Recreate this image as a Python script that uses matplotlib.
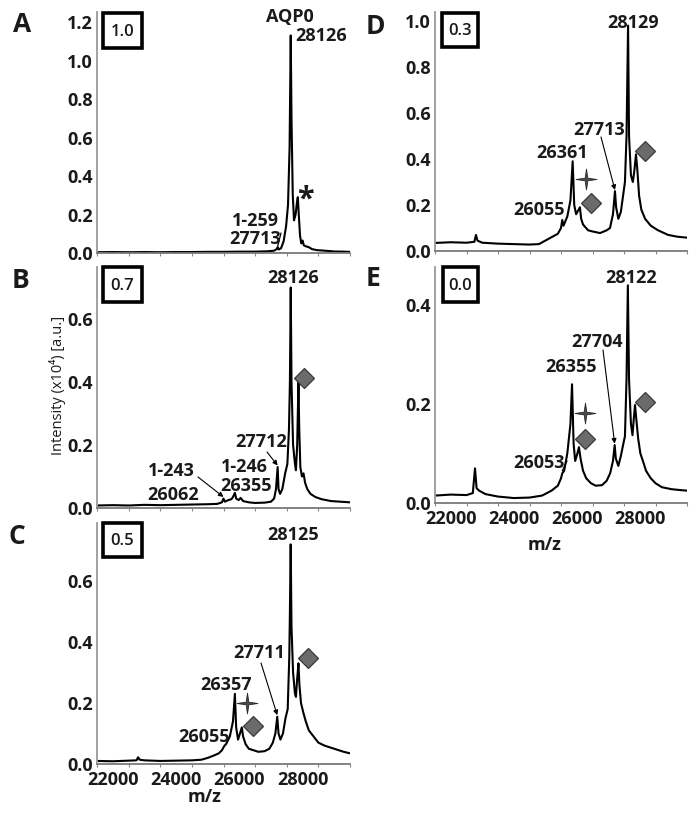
import matplotlib
matplotlib.use('Agg')
import matplotlib.pyplot as plt
from matplotlib.transforms import ScaledTranslation
from matplotlib.path import Path
from matplotlib.patches import Rectangle

plt.rcParams['font.family'] = ['Open Sans', 'DejaVu Sans']

# ---------------- data ----------------
mz_A = [22000, 22500, 23000, 23500, 24000, 24500, 25000, 25500, 26000, 26500, 27000, 27400, 27600, 27680,
        27715, 27750, 27820, 27900, 27980, 28040, 28090, 28126, 28150, 28190, 28230, 28280, 28320, 28350,
        28380, 28420, 28460, 28500, 28540, 28600, 28700, 28800, 28950, 29200, 29500, 29800, 30000]
int_A = [0.004, 0.005, 0.004, 0.005, 0.004, 0.005, 0.005, 0.006, 0.006, 0.007, 0.007, 0.009, 0.012, 0.02,
         0.03, 0.018, 0.025, 0.06, 0.14, 0.25, 0.55, 1.13, 0.7, 0.3, 0.17, 0.2, 0.26, 0.29,
         0.2, 0.09, 0.05, 0.065, 0.04, 0.035, 0.03, 0.02, 0.015, 0.012, 0.008, 0.007, 0.006]

mz_B = [22000, 22500, 23000, 23500, 24000, 24500, 25000, 25500, 25800, 25950, 26000, 26040, 26150, 26250,
        26300, 26360, 26400, 26480, 26540, 26620, 26800, 27000, 27300, 27500, 27600, 27660, 27712, 27740,
        27790, 27860, 27950, 28020, 28070, 28100, 28126, 28150, 28200, 28260, 28290, 28330, 28370, 28395,
        28430, 28480, 28530, 28580, 28650, 28750, 28900, 29100, 29400, 29700, 30000]
int_B = [0.008, 0.009, 0.008, 0.01, 0.009, 0.01, 0.011, 0.012, 0.013, 0.018, 0.03, 0.02, 0.025, 0.028,
         0.035, 0.048, 0.03, 0.025, 0.032, 0.022, 0.018, 0.016, 0.017, 0.02, 0.03, 0.06, 0.13, 0.06,
         0.045, 0.06, 0.11, 0.14, 0.25, 0.4, 0.70, 0.4, 0.2, 0.14, 0.12, 0.2, 0.40, 0.25,
         0.13, 0.1, 0.11, 0.08, 0.06, 0.045, 0.035, 0.028, 0.022, 0.02, 0.018]

mz_C = [22000, 22500, 23000, 23250, 23300, 23350, 23500, 24000, 24500, 25000, 25300, 25500, 25700, 25850,
        25950, 26030, 26080, 26200, 26300, 26360, 26400, 26460, 26520, 26580, 26620, 26700, 26800, 26950,
        27100, 27300, 27450, 27560, 27640, 27700, 27740, 27800, 27880, 27960, 28030, 28080, 28100, 28125,
        28150, 28200, 28260, 28290, 28330, 28370, 28400, 28450, 28520, 28600, 28700, 28850, 29000, 29200,
        29500, 29800, 30000]
int_C = [0.01, 0.009, 0.011, 0.012, 0.022, 0.014, 0.012, 0.01, 0.011, 0.012, 0.014, 0.02, 0.028, 0.035,
         0.045, 0.06, 0.065, 0.09, 0.14, 0.23, 0.12, 0.08, 0.1, 0.12, 0.09, 0.065, 0.05, 0.045,
         0.04, 0.042, 0.05, 0.07, 0.1, 0.155, 0.1, 0.08, 0.1, 0.15, 0.18, 0.35, 0.5, 0.72,
         0.45, 0.3, 0.23, 0.22, 0.28, 0.33, 0.26, 0.2, 0.17, 0.14, 0.11, 0.09, 0.07, 0.06,
         0.05, 0.04, 0.035]

mz_D = [22000, 22500, 23000, 23250, 23300, 23350, 23500, 24000, 24500, 25000, 25300, 25500, 25700, 25900,
        26000, 26040, 26080, 26200, 26300, 26370, 26420, 26480, 26540, 26600, 26640, 26700, 26860, 27000,
        27240, 27450, 27556, 27650, 27713, 27750, 27820, 27900, 27980, 28030, 28080, 28129, 28160, 28220,
        28280, 28330, 28380, 28420, 28480, 28550, 28670, 28850, 29080, 29400, 29700, 30000]
int_D = [0.035, 0.038, 0.036, 0.04, 0.07, 0.045, 0.036, 0.032, 0.03, 0.028, 0.03, 0.045, 0.06, 0.075,
         0.1, 0.135, 0.11, 0.15, 0.22, 0.39, 0.2, 0.16, 0.175, 0.19, 0.14, 0.115, 0.09, 0.085,
         0.078, 0.09, 0.1, 0.16, 0.26, 0.19, 0.14, 0.17, 0.25, 0.3, 0.5, 0.98, 0.5, 0.33,
         0.3, 0.35, 0.42, 0.36, 0.24, 0.18, 0.14, 0.11, 0.09, 0.07, 0.062, 0.058]

mz_E = [22000, 22500, 23000, 23200, 23270, 23320, 23400, 23600, 24000, 24500, 25000, 25400, 25700, 25900,
        26000, 26040, 26100, 26200, 26300, 26350, 26400, 26450, 26520, 26570, 26620, 26700, 26800, 26950,
        27100, 27300, 27450, 27560, 27650, 27704, 27740, 27820, 27900, 27980, 28030, 28080, 28122, 28160,
        28220, 28270, 28310, 28350, 28390, 28450, 28520, 28600, 28700, 28850, 29000, 29200, 29500, 29800,
        30000]
int_E = [0.015, 0.017, 0.016, 0.02, 0.07, 0.03, 0.025, 0.018, 0.013, 0.01, 0.011, 0.015, 0.025, 0.035,
         0.05, 0.06, 0.065, 0.1, 0.16, 0.24, 0.12, 0.085, 0.1, 0.113, 0.09, 0.065, 0.05, 0.04,
         0.035, 0.036, 0.045, 0.06, 0.085, 0.117, 0.09, 0.075, 0.095, 0.12, 0.135, 0.25, 0.44, 0.25,
         0.16, 0.137, 0.17, 0.198, 0.17, 0.13, 0.1, 0.085, 0.065, 0.05, 0.04, 0.032, 0.028, 0.026,
         0.025]

panel_letters = ['A', 'B', 'C', 'D', 'E']
ratio_labels = ['1.0', '0.7', '0.5', '0.3', '0.0']
y_maxes = [1.252, 0.765, 0.79, 1.039, 0.477]
y_ticks = [[0.0, 0.2, 0.4, 0.6, 0.8, 1.0, 1.2],
           [0.0, 0.2, 0.4, 0.6],
           [0.0, 0.2, 0.4, 0.6],
           [0.0, 0.2, 0.4, 0.6, 0.8, 1.0],
           [0.0, 0.2, 0.4]]
x_ticks_minor = [22000, 23000, 24000, 25000, 26000, 27000, 28000, 29000, 30000]
x_ticks_major = [22000, 24000, 26000, 28000]
x_label = 'm/z'
y_label = 'Intensity (x10\u2074) [a.u.]'

spectra = [(mz_A, int_A), (mz_B, int_B), (mz_C, int_C), (mz_D, int_D), (mz_E, int_E)]

# ---------------- layout (pixels) ----------------
W, H = 700, 814
fig = plt.figure(figsize=(W / 100, H / 100), dpi=100)

def rect(l, t, r, b):
    return [l / W, 1 - b / H, (r - l) / W, (b - t) / H]

boxes = [rect(97, 12, 350, 253), rect(97, 267, 350, 508), rect(97, 523, 350, 764),
         rect(435, 12, 687, 251), rect(435, 267, 687, 503)]
show_xlabels = [False, False, True, False, True]

axes = []
for i, (mz, inten) in enumerate(spectra):
    ax = fig.add_axes(boxes[i])
    ax.plot(mz, inten, color='black', lw=1.5, solid_joinstyle='round')
    ax.set_xlim(22000, 30000)
    ax.set_ylim(0, y_maxes[i])
    ax.set_yticks(y_ticks[i])
    ax.set_yticklabels(['%.1f' % v for v in y_ticks[i]])
    ax.set_xticks(x_ticks_minor, minor=True)
    ax.set_xticks(x_ticks_major)
    for s in ['top', 'right']:
        ax.spines[s].set_visible(False)
    ax.spines['left'].set_color('#9a9a9a')
    ax.spines['bottom'].set_color('#7a7a7a')
    ax.spines['left'].set_linewidth(1.3)
    ax.spines['bottom'].set_linewidth(1.3)
    ax.tick_params(axis='y', length=0, pad=3, labelsize=13, labelcolor='#1a1a1a')
    ax.tick_params(axis='x', which='both', length=2.5, width=0.8, color='#888888', direction='out',
                   pad=2.5, labelsize=13, labelcolor='#1a1a1a')
    for lab in ax.get_yticklabels():
        lab.set_fontweight('bold')
    if show_xlabels[i]:
        ax.set_xticklabels([str(v) for v in x_ticks_major])
        off = ScaledTranslation(16 / 100, 0, fig.dpi_scale_trans)
        for lab in ax.get_xticklabels():
            lab.set_fontweight('bold')
            lab.set_transform(lab.get_transform() + off)
    else:
        ax.set_xticklabels([])
    axes.append(ax)

axA, axB, axC, axD, axE = axes

# overlay in pixel coordinates for annotation glyphs
ov = fig.add_axes([0, 0, 1, 1])
ov.set_xlim(0, W)
ov.set_ylim(H, 0)
ov.axis('off')
ov.patch.set_alpha(0)

def txt(s, x, y, size=13, weight='bold', **kw):
    ov.text(x, y, s, fontsize=size, fontweight=weight, ha='center', va='center', color='#1a1a1a', **kw)

# panel letters
for (x, y), letter in zip([(22, 25), (20, 280), (17, 537), (375, 27), (373, 278)], panel_letters):
    txt(letter, x, y, size=19)

# ratio boxes
for (l, t, r, b), lab in zip([(103, 13, 142, 48), (103, 267, 142, 302), (103, 523, 142, 557),
                              (442, 13, 478, 47), (443, 267, 478, 302)], ratio_labels):
    ov.add_patch(Rectangle((l, t), r - l, b - t, fill=False, lw=2.6, edgecolor='black'))
    txt(lab, (l + r) / 2, (t + b) / 2 + 1, size=12, weight='semibold')

# axis titles
txt(y_label, 58, 385, size=10.5, weight='normal', rotation=90)
txt(x_label, 205, 797, size=13)
txt(x_label, 545, 545, size=13)

# peak labels
labels = [
    ('AQP0', 290, 17), ('28126', 321, 36), ('*', 305, 200), ('1-259', 255, 221), ('27713', 255, 239),
    ('28126', 293, 278), ('27712', 261, 442), ('1-246', 244, 467), ('26355', 246, 486),
    ('1-243', 171, 471), ('26062', 173, 495),
    ('28125', 293, 535), ('27711', 259, 653), ('26357', 226, 685), ('26055', 204, 737),
    ('28129', 633, 23), ('27713', 599, 130), ('26361', 562, 153), ('26055', 539, 210),
    ('28122', 631, 278), ('27704', 597, 342), ('26355', 571, 367), ('26053', 539, 463),
]
for s, x, y in labels:
    if s == '*':
        txt(s, x, y, size=22)
    else:
        txt(s, x, y)

# arrows to peaks (text end in figure pixels, tip at the peak in data units)
arrow = dict(arrowstyle='-|>', color='black', lw=0.8, mutation_scale=7, shrinkA=0, shrinkB=0)
plain = dict(arrowstyle='-', color='black', lw=0.9, shrinkA=0, shrinkB=0)
def point(ax, mz, val, x, y, props):
    ax.annotate('', xy=(mz, val), xycoords='data', xytext=(x, H - y), textcoords='figure pixels',
                arrowprops=props)

point(axA, 27713, 0.035, 281, 233, plain)
point(axB, 26000, 0.035, 198, 477, arrow)
point(axB, 27712, 0.135, 267, 452, arrow)
point(axC, 27700, 0.16, 261, 663, arrow)
point(axD, 27713, 0.265, 601, 137, arrow)
point(axE, 27704, 0.12, 603, 350, arrow)
point(axE, 26040, 0.065, 567, 461, plain)

# diamonds and stars
star = Path([(0, 1), (0.13, 0.13), (1, 0), (0.13, -0.13), (0, -1), (-0.13, -0.13), (-1, 0), (-0.13, 0.13), (0, 1)],
            closed=True)
diamonds = [(304, 378), (253, 726), (308, 658), (591, 203), (645, 151), (585, 439), (645, 402)]
stars = [(247, 703), (586, 179), (585, 413)]
for x, y in diamonds:
    ov.plot([x], [y], marker='D', markersize=10.5, markerfacecolor='#6b6b6b', markeredgecolor='#3a3a3a',
            markeredgewidth=0.9, linestyle='none')
for x, y in stars:
    ov.plot([x], [y], marker=star, markersize=15, markerfacecolor='#4a4a4a', markeredgecolor='#2a2a2a',
            markeredgewidth=0.6, linestyle='none')

fig.savefig('out.png', dpi=100)
